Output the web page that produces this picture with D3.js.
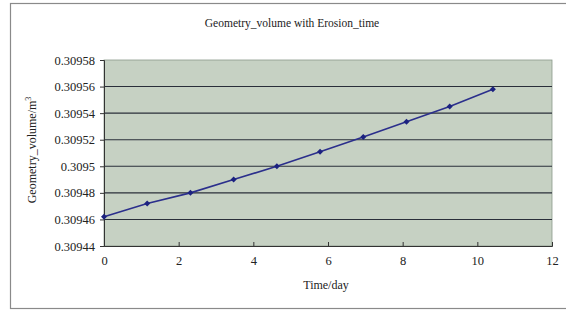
<!DOCTYPE html>
<html lang="en">
<head>
  <meta charset="UTF-8">
  <script src="https://d3js.org/d3.v7.min.js"></script>
  <style>
    body { margin: 0; padding: 0; background: #fff; overflow: hidden; }
    text { font-family: "Liberation Serif", "Times New Roman", serif; fill: #222; }
  </style>
</head>
<body>
  <script>
    // data
    const timeDays = [0, 1.157, 2.315, 3.472, 4.63, 5.787, 6.944, 8.102, 9.259, 10.417];
    const volumes = [0.309462, 0.309472, 0.309480, 0.309490, 0.309500, 0.309511, 0.309522, 0.3095335, 0.309545, 0.309558];
    const yTicks = [0.30944, 0.30946, 0.30948, 0.3095, 0.30952, 0.30954, 0.30956, 0.30958];
    const xTicks = [0, 2, 4, 6, 8, 10, 12];

    const W = 566, H = 311;
    const plot = { left: 104, right: 552, top: 60, bottom: 246 };

    const svg = d3.select('body').append('svg')
      .attr('width', W)
      .attr('height', H);

    // outer frame
    svg.append('rect')
      .attr('x', 10.5).attr('y', 3.5)
      .attr('width', 570).attr('height', 305)
      .attr('fill', '#fff')
      .attr('stroke', '#8a8a8a')
      .attr('stroke-width', 1.2);

    const x = d3.scaleLinear().domain([0, 12]).range([plot.left, plot.right]);
    const y = d3.scaleLinear().domain([0.30944, 0.30958]).range([plot.bottom, plot.top]);

    // plot background
    svg.append('rect')
      .attr('x', plot.left).attr('y', plot.top)
      .attr('width', plot.right - plot.left)
      .attr('height', plot.bottom - plot.top)
      .attr('fill', '#c6d1c3')
      .attr('stroke', '#8a9a8a')
      .attr('stroke-width', 0.8);

    // horizontal gridlines
    svg.append('g')
      .selectAll('line')
      .data(yTicks.slice(1, -1))
      .enter().append('line')
      .attr('x1', plot.left).attr('x2', plot.right)
      .attr('y1', d => y(d)).attr('y2', d => y(d))
      .attr('stroke', '#2a2f3a')
      .attr('stroke-width', 1.1);

    // y axis
    const yAxis = svg.append('g')
      .attr('transform', `translate(${plot.left},0)`)
      .call(d3.axisLeft(y).tickValues(yTicks).tickSize(4).tickPadding(5)
        .tickFormat(d => String(+d.toFixed(5))));
    yAxis.select('.domain').attr('stroke', '#333');
    yAxis.selectAll('.tick line').attr('stroke', '#333');
    yAxis.selectAll('.tick text').attr('font-size', 12.5).attr('fill', '#222')
      .attr('font-family', '"Liberation Serif", serif');

    // x axis
    const xAxis = svg.append('g')
      .attr('transform', `translate(0,${plot.bottom})`)
      .call(d3.axisBottom(x).tickValues(xTicks).tickSize(-4).tickPadding(10)
        .tickFormat(d3.format('d')));
    xAxis.select('.domain').attr('stroke', '#333');
    xAxis.selectAll('.tick line').attr('stroke', '#333');
    xAxis.selectAll('.tick text').attr('font-size', 12.5).attr('fill', '#222')
      .attr('font-family', '"Liberation Serif", serif');

    // series line
    const pts = timeDays.map((t, i) => [t, volumes[i]]);
    svg.append('path')
      .datum(pts)
      .attr('fill', 'none')
      .attr('stroke', '#2b2f8c')
      .attr('stroke-width', 1.6)
      .attr('d', d3.line().x(d => x(d[0])).y(d => y(d[1])));

    // diamond markers
    svg.append('g')
      .selectAll('path')
      .data(pts)
      .enter().append('path')
      .attr('transform', d => `translate(${x(d[0])},${y(d[1])})`)
      .attr('d', d3.symbol().type(d3.symbolSquare).size(18))
      .attr('transform', d => `translate(${x(d[0])},${y(d[1])}) rotate(45)`)
      .attr('fill', '#1c2280');

    // title
    svg.append('text')
      .attr('x', 292).attr('y', 27)
      .attr('text-anchor', 'middle')
      .attr('font-size', 11.5)
      .text('Geometry_volume with Erosion_time');

    // axis titles
    svg.append('text')
      .attr('x', 326).attr('y', 289)
      .attr('text-anchor', 'middle')
      .attr('font-size', 12)
      .text('Time/day');

    const yt = svg.append('text')
      .attr('transform', 'translate(36,150) rotate(-90)')
      .attr('text-anchor', 'middle')
      .attr('font-size', 12);
    yt.append('tspan').text('Geometry_volume/m');
    yt.append('tspan').attr('font-size', 8).attr('dy', -5).text('3');
  </script>
</body>
</html>
